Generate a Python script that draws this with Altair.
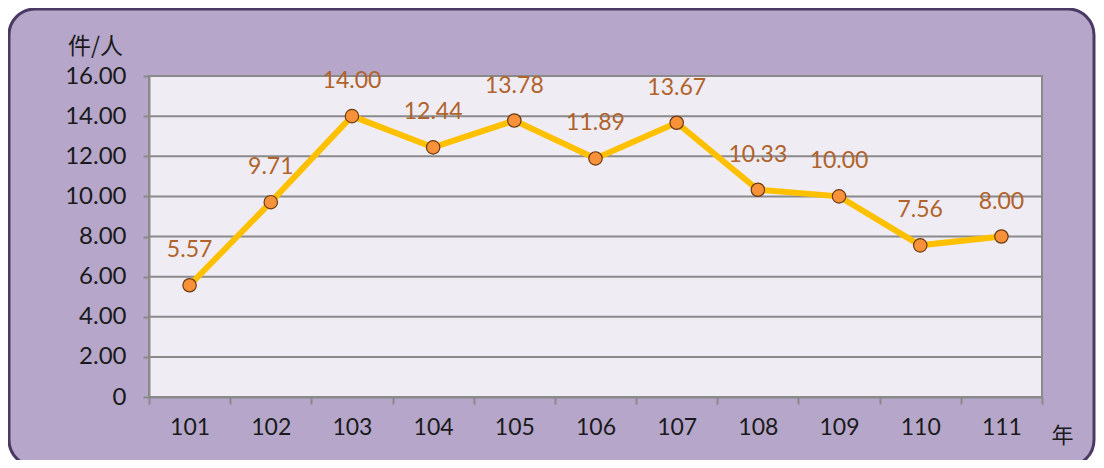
import altair as alt
import pandas as pd

years = ["101", "102", "103", "104", "105", "106", "107", "108", "109", "110", "111"]
values = [5.57, 9.71, 14.00, 12.44, 13.78, 11.89, 13.67, 10.33, 10.00, 7.56, 8.00]
grid_values = [2, 4, 6, 8, 10, 12, 14, 16]

W, H = 893, 321
FONT = "Lato"
CJK = "Noto Sans CJK TC"

df = pd.DataFrame({"year": years, "value": values})
df["label"] = [f"{v:.2f}" for v in values]
grid_df = pd.DataFrame({"g": grid_values})
one = pd.DataFrame({"a": [0]})

xscale = alt.Scale(type="band", paddingInner=0, paddingOuter=0, domain=years)
yscale = alt.Scale(domain=[0, 16], nice=False)

xaxis = alt.Axis(
    title="年", titleFont=CJK, titleFontSize=22, titleFontWeight="normal",
    titleColor="#1a1a1a", titleX=913, titleY=38, titleAlign="center",
    titleBaseline="middle", titleAngle=0,
    labelFont=FONT, labelFontSize=23, labelColor="#1a1a1a", labelAngle=0,
    labelPadding=12, tickBand="extent", tickSize=7, tickColor="#8a8a8a",
    tickWidth=2, domainColor="#8a8a8a", domainWidth=2, grid=False, zindex=1,
)
yaxis = alt.Axis(
    title="件/人", titleFont=CJK, titleFontSize=23, titleFontWeight="normal",
    titleColor="#1a1a1a", titleX=-54, titleY=-30, titleAlign="center",
    titleBaseline="middle", titleAngle=0,
    values=[0, 2, 4, 6, 8, 10, 12, 14, 16],
    labelExpr="datum.value == 0 ? '0' : format(datum.value, '.2f')",
    labelFont=FONT, labelFontSize=24, labelColor="#1a1a1a", labelPadding=17,
    tickSize=6, tickColor="#8a8a8a", tickWidth=2, domainColor="#8a8a8a",
    domainWidth=2, grid=False, zindex=1,
)

outer = alt.Chart(one).mark_rect(
    fill="#B5A6CA", stroke="#4A3A63", strokeWidth=3, cornerRadius=26
).encode(
    x=alt.value(-140), x2=alt.value(945), y=alt.value(-67), y2=alt.value(390)
)

plotbg = alt.Chart(one).mark_rect(
    fill="#EFECF4", stroke="#8a8a8a", strokeWidth=2
).encode(
    x=alt.value(0), x2=alt.value(W), y=alt.value(0), y2=alt.value(H)
)

grid = alt.Chart(grid_df).mark_rule(color="#8a8a8a", strokeWidth=2).encode(
    y=alt.Y("g:Q", scale=yscale, axis=yaxis),
    x=alt.value(0), x2=alt.value(W),
)

base = alt.Chart(df).encode(
    x=alt.X("year:O", scale=xscale, axis=xaxis, bandPosition=0.5, sort=years),
    y=alt.Y("value:Q", scale=yscale, axis=yaxis),
)

line = base.mark_line(color="#FFC000", strokeWidth=6)
points = base.mark_point(
    filled=True, fill="#F7923A", stroke="#6B3A10", strokeWidth=1.2,
    size=180, opacity=1, shape="circle"
)
labels = base.mark_text(
    font=FONT, fontSize=23, color="#B0632A", dy=-35, baseline="middle",
    align="center"
).encode(text="label:N")

chart = alt.layer(outer, plotbg, grid, line, points, labels).properties(
    width=W, height=H,
    autosize=alt.AutoSizeParams(type="none"),
    padding={"left": 141, "top": 68, "right": 54, "bottom": 63},
    background="white",
).configure_view(stroke=None)

chart.save("out.html", embed_options={"renderer": "svg", "actions": False})
